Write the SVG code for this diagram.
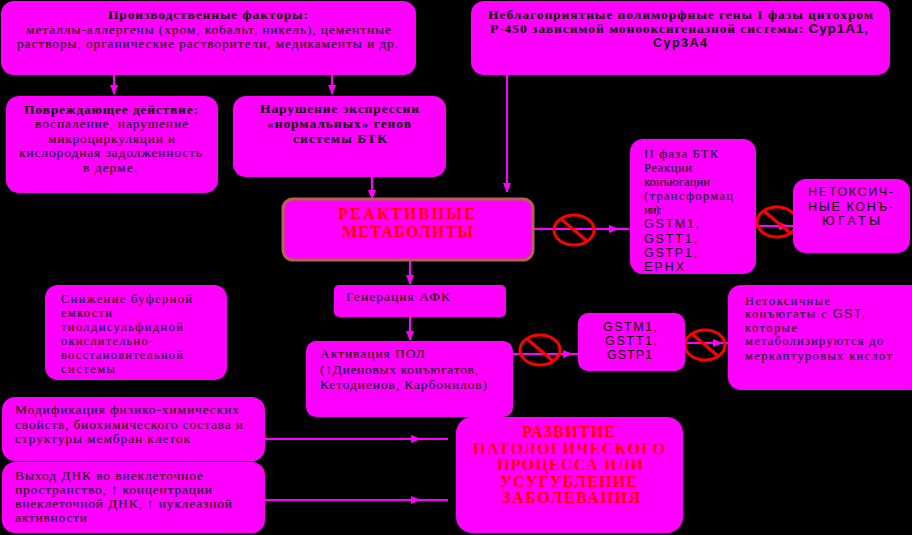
<svg xmlns="http://www.w3.org/2000/svg" width="912" height="535" viewBox="0 0 912 535">
<style>
.bg{fill:#000}
.box{fill:#ff00ff}
.rm{fill:#ff00ff;stroke:#b5654f;stroke-width:3}
.t{font-family:"Liberation Serif",serif;font-size:13.5px;fill:#000}
.sm{font-size:12.5px}
.b{font-weight:bold}
.s{font-family:"Liberation Sans",sans-serif;font-size:12.5px}
.r{font-family:"Liberation Serif",serif;font-weight:bold;font-size:16px;fill:#ff0000}
.c{stroke:#ff00ff;stroke-width:2;fill:none}
.no{fill:none;stroke:#ff0000;stroke-width:3}
</style>
<defs>
<marker id="ah" markerUnits="userSpaceOnUse" markerWidth="10" markerHeight="8" refX="9" refY="4" orient="auto">
<path d="M0,0 L10,4 L0,8 z" fill="#ff00ff"/>
</marker>
<g id="nosign">
<ellipse class="no" cx="0" cy="0" rx="20" ry="15"/>
<line class="no" x1="-13" y1="-11" x2="13" y2="11"/>
</g>
</defs>
<rect class="bg" x="0" y="0" width="912" height="535"/>

<g id="connectors">
<path class="c" d="M114,75 V94" marker-end="url(#ah)"/>
<path class="c" d="M332,75 V94" marker-end="url(#ah)"/>
<path class="c" d="M507,75 V192" marker-end="url(#ah)"/>
<path class="c" d="M372,177 V199" marker-end="url(#ah)"/>
<path class="c" d="M410,261 V284" marker-end="url(#ah)"/>
<path class="c" d="M410,317 V340" marker-end="url(#ah)"/>
<path class="c" d="M534,229 L618,229 L629,229" marker-mid="url(#ah)"/>
<path class="c" d="M756,226 L788,226 L794,226" marker-mid="url(#ah)"/>
<path class="c" d="M513,354 L572,354 L578,354" marker-mid="url(#ah)"/>
<path class="c" d="M685,343 L722,343 L728,343" marker-mid="url(#ah)"/>
<path class="c" d="M265,439 L420,439 L448,439" marker-mid="url(#ah)"/>
<path class="c" d="M265,500 L420,500 L448,500" marker-mid="url(#ah)"/>
<use href="#nosign" x="574" y="230"/>
<use href="#nosign" x="777" y="222"/>
<use href="#nosign" x="540" y="350"/>
<use href="#nosign" x="705" y="345"/>
</g>

<g id="prod">
<rect class="box" x="1" y="1" width="415" height="74" rx="13"/>
<text class="t b" x="108" y="19" font-size="14.5" textLength="200" lengthAdjust="spacing">Производственные факторы:</text>
<text class="t" x="26" y="34" textLength="365" lengthAdjust="spacing">металлы-аллергены (хром, кобальт, никель), цементные</text>
<text class="t" x="17" y="48" textLength="381" lengthAdjust="spacing">растворы, органические растворители, медикаменты и др.</text>
</g>

<g id="genes">
<rect class="box" x="471" y="1" width="419" height="74" rx="13"/>
<text class="t b" x="488" y="19" textLength="385" lengthAdjust="spacing">Неблагоприятные полиморфные гены I фазы цитохром</text>
<text class="t b" x="490" y="33" textLength="378" lengthAdjust="spacing">Р-450 зависимой монооксигеназной системы: <tspan font-family="Liberation Sans, sans-serif">Cyp1A1,</tspan></text>
<text class="s b" x="653" y="47" font-size="13.5" textLength="54" lengthAdjust="spacing">Cyp3A4</text>
</g>

<g id="damage">
<rect class="box" x="6" y="96" width="212" height="97" rx="13"/>
<text class="t b" x="24" y="114" textLength="174" lengthAdjust="spacing">Повреждающее действие:</text>
<text class="t" x="35" y="128" textLength="153" lengthAdjust="spacing">воспаление, нарушение</text>
<text class="t" x="48" y="143" textLength="127" lengthAdjust="spacing">микроциркуляции и</text>
<text class="t" x="19" y="157" textLength="183" lengthAdjust="spacing">кислородная задолженность</text>
<text class="t" x="83" y="172" textLength="54" lengthAdjust="spacing">в дерме.</text>
</g>

<g id="expr">
<rect class="box" x="233" y="96" width="213" height="81" rx="13"/>
<text class="t b" x="260" y="113" font-size="14" textLength="159" lengthAdjust="spacing">Нарушение экспрессии</text>
<text class="t b" x="267" y="128" font-size="14" textLength="144" lengthAdjust="spacing">«нормальных» генов</text>
<text class="t b" x="293" y="143" font-size="14" textLength="94" lengthAdjust="spacing">системы БТК</text>
</g>

<g id="reactive">
<rect class="rm" x="283" y="199" width="250" height="61" rx="10"/>
<text class="r" x="338" y="219" textLength="137" lengthAdjust="spacing">РЕАКТИВНЫЕ</text>
<text class="r" x="342" y="237" textLength="131" lengthAdjust="spacing">МЕТАБОЛИТЫ</text>
</g>

<g id="phase2">
<rect class="box" x="630" y="139" width="126" height="135" rx="13"/>
<text class="t sm" x="644" y="158" textLength="74" lengthAdjust="spacing">II фаза БТК</text>
<text class="t sm" x="644" y="172" textLength="48" lengthAdjust="spacing">Реакции</text>
<text class="t sm" x="644" y="186" textLength="66" lengthAdjust="spacing">конъюгации</text>
<text class="t sm" x="644" y="200" textLength="89" lengthAdjust="spacing">(трансформац</text>
<text class="t sm" x="644" y="214" textLength="18" lengthAdjust="spacing">ии):</text>
<text class="s" x="644" y="228" textLength="55" lengthAdjust="spacing">GSTM1,</text>
<text class="s" x="644" y="243" textLength="53" lengthAdjust="spacing">GSTT1,</text>
<text class="s" x="644" y="257" textLength="53" lengthAdjust="spacing">GSTP1,</text>
<text class="s" x="644" y="271" textLength="40" lengthAdjust="spacing">EPHX</text>
</g>

<g id="nontox1">
<rect class="box" x="793" y="179" width="117" height="74" rx="13"/>
<text class="s" x="808" y="196" textLength="85" lengthAdjust="spacing">НЕТОКСИЧ-</text>
<text class="s" x="808" y="211" textLength="85" lengthAdjust="spacing">НЫЕ КОНЪ-</text>
<text class="s" x="822" y="225" textLength="58" lengthAdjust="spacing">ЮГАТЫ</text>
</g>

<g id="afk">
<rect class="box" x="334" y="285" width="172" height="32" rx="5"/>
<text class="t" x="346" y="301" textLength="104" lengthAdjust="spacing">Генерация АФК</text>
</g>

<g id="pol">
<rect class="box" x="306" y="341" width="207" height="76" rx="10"/>
<text class="t" x="320" y="358" textLength="105" lengthAdjust="spacing">Активация ПОЛ</text>
<text class="t" x="320" y="374" textLength="158" lengthAdjust="spacing">(↑Диеновых конъюгатов,</text>
<text class="t" x="320" y="389" textLength="167" lengthAdjust="spacing">Кетодиенов, Карбонилов)</text>
</g>

<g id="gst">
<rect class="box" x="578" y="313" width="107" height="58" rx="10"/>
<text class="s" x="603" y="331" textLength="54" lengthAdjust="spacing">GSTM1,</text>
<text class="s" x="605" y="345" textLength="52" lengthAdjust="spacing">GSTT1,</text>
<text class="s" x="607" y="359" textLength="45" lengthAdjust="spacing">GSTP1</text>
</g>

<g id="nontox2">
<rect class="box" x="728" y="285" width="195" height="105" rx="13"/>
<text class="t sm" x="745" y="305" textLength="85" lengthAdjust="spacing">Нетоксичные</text>
<text class="t sm" x="745" y="318" textLength="120" lengthAdjust="spacing">конъюгаты с <tspan font-family="Liberation Sans, sans-serif">GST,</tspan></text>
<text class="t sm" x="745" y="332" textLength="52" lengthAdjust="spacing">которые</text>
<text class="t sm" x="745" y="345" textLength="138" lengthAdjust="spacing">метаболизируются до</text>
<text class="t sm" x="745" y="360" textLength="147" lengthAdjust="spacing">меркаптуровых кислот</text>
</g>

<g id="buffer">
<rect class="box" x="45" y="285" width="182" height="95" rx="13"/>
<text class="t sm" x="61" y="303" textLength="131" lengthAdjust="spacing">Снижение буферной</text>
<text class="t sm" x="61" y="317" textLength="51" lengthAdjust="spacing">емкости</text>
<text class="t sm" x="61" y="331" textLength="122" lengthAdjust="spacing">тиолдисульфидной</text>
<text class="t sm" x="61" y="345" textLength="92" lengthAdjust="spacing">окислительно-</text>
<text class="t sm" x="61" y="359" textLength="122" lengthAdjust="spacing">восстановительной</text>
<text class="t sm" x="61" y="373" textLength="54" lengthAdjust="spacing">системы</text>
</g>

<g id="modif">
<rect class="box" x="2" y="397" width="263" height="64" rx="13"/>
<text class="t" x="15" y="414" textLength="224" lengthAdjust="spacing">Модификация физико-химических</text>
<text class="t" x="15" y="429" textLength="228" lengthAdjust="spacing">свойств, биохимического состава и</text>
<text class="t" x="15" y="443" textLength="175" lengthAdjust="spacing">структуры мембран клеток</text>
</g>

<g id="dna">
<rect class="box" x="2" y="462" width="263" height="71" rx="13"/>
<text class="t" x="15" y="480" font-size="13" textLength="188" lengthAdjust="spacing">Выход ДНК во внеклеточное</text>
<text class="t" x="15" y="494" font-size="13" textLength="197" lengthAdjust="spacing">пространство, ↑ концентрации</text>
<text class="t" x="15" y="508" font-size="13" textLength="217" lengthAdjust="spacing">внеклеточной ДНК, ↑ нуклеазной</text>
<text class="t" x="15" y="522" font-size="13" textLength="72" lengthAdjust="spacing">активности</text>
</g>

<g id="result">
<rect class="box" x="456" y="417" width="227" height="116" rx="16"/>
<text class="r" x="522" y="437" textLength="93" lengthAdjust="spacing">РАЗВИТИЕ</text>
<text class="r" x="473" y="454" textLength="192" lengthAdjust="spacing">ПАТОЛОГИЧЕСКОГО</text>
<text class="r" x="497" y="470" textLength="146" lengthAdjust="spacing">ПРОЦЕССА ИЛИ</text>
<text class="r" x="500" y="487" textLength="137" lengthAdjust="spacing">УСУГУБЛЕНИЕ</text>
<text class="r" x="502" y="503" textLength="138" lengthAdjust="spacing">ЗАБОЛЕВАНИЯ</text>
</g>
</svg>
